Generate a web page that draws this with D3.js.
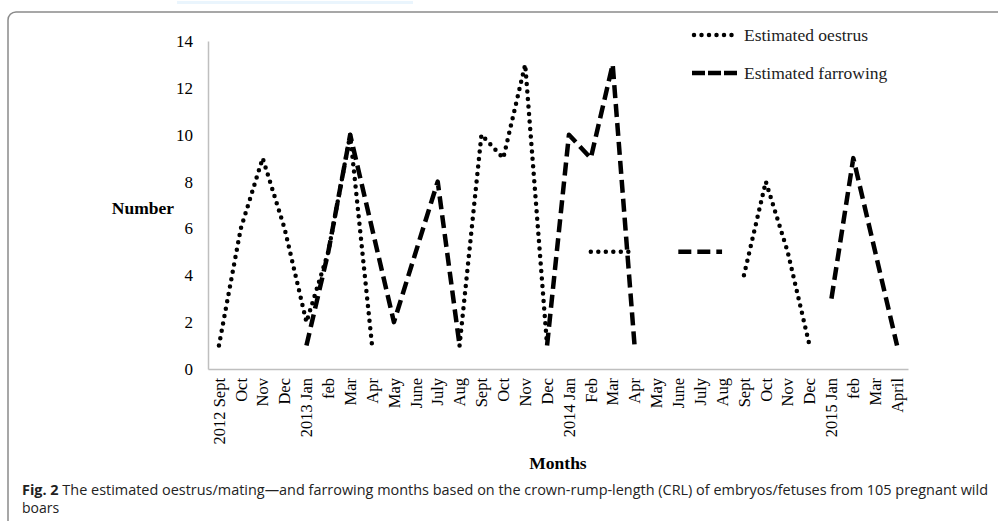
<!DOCTYPE html>
<html>
<head>
<meta charset="utf-8">
<script src="https://cdn.jsdelivr.net/npm/d3@7"></script>
<style>
  body { margin: 0; background: #fff; }
  svg { display: block; }
</style>
</head>
<body>
<svg id="chart" width="998" height="521"></svg>
<script>
// month labels along the x axis
var months = ["2012 Sept", "Oct", "Nov", "Dec", "2013 Jan", "feb", "Mar", "Apr", "May", "June",
    "July", "Aug", "Sept", "Oct", "Nov", "Dec", "2014 Jan", "Feb", "Mar", "Apr", "May", "June",
    "July", "Aug", "Sept", "Oct", "Nov", "Dec", "2015 Jan", "feb", "Mar", "April"];

// null = no point for that month
var oestrus = [1, 6, 9, 6, 2, 5, 10, 1, null, null, null, 1, 10, 9, 13, 1,
    null, 5, 5, 5, null, null, null, null, 4, 8, 5, 1, null, null, null, null];

var farrowing = [null, null, null, null, 1, 5, 10, 6, 2, 5, 8, 1, null, null, null, 1,
    10, 9, 13, 1, null, 5, 5, 5, null, null, null, null, 3, 9, 5, 1];

var yTicks = [0, 2, 4, 6, 8, 10, 12, 14];

var svg = d3.select("#chart");
var serif = "'Liberation Serif', 'Times New Roman', serif";

// figure frame
svg.append("rect")
    .attr("x", 177).attr("y", 1).attr("width", 236).attr("height", 3)
    .attr("fill", "#eaf5fd");
svg.append("rect")
    .attr("x", 8).attr("y", 12).attr("width", 1010).attr("height", 540)
    .attr("rx", 8)
    .attr("fill", "none").attr("stroke", "#8a8a8a").attr("stroke-width", 1.5);

var x = d3.scaleBand()
    .domain(d3.range(months.length))
    .range([208, 908]);

var y = d3.scaleLinear()
    .domain([0, 14])
    .range([369, 41]);

// axes
var yAxis = svg.append("g")
    .attr("transform", "translate(208,0)")
    .call(d3.axisLeft(y).tickValues(yTicks).tickSize(0).tickPadding(15));
yAxis.select(".domain").attr("stroke", "#bfbfbf").attr("stroke-width", 1.5);
yAxis.selectAll("text")
    .style("font-family", serif).style("font-size", "17px").attr("fill", "#000");

var xAxis = svg.append("g")
    .attr("transform", "translate(0,369)")
    .call(d3.axisBottom(x).tickSize(0).tickFormat(function(i) { return months[i]; }));
xAxis.select(".domain").attr("stroke", "#bfbfbf").attr("stroke-width", 1.5);
xAxis.selectAll("text")
    .style("font-family", serif).style("font-size", "16.5px").attr("fill", "#000")
    .attr("transform", "rotate(-90)")
    .attr("text-anchor", "end")
    .attr("x", -9).attr("y", 0).attr("dy", "0.35em");

// axis titles
svg.append("text")
    .attr("x", 174).attr("y", 214)
    .attr("text-anchor", "end")
    .style("font-family", serif).style("font-size", "17.5px").style("font-weight", "bold")
    .text("Number");
svg.append("text")
    .attr("x", 558).attr("y", 469)
    .attr("text-anchor", "middle")
    .style("font-family", serif).style("font-size", "17.5px").style("font-weight", "bold")
    .text("Months");

// series
var line = d3.line()
    .defined(function(d) { return d != null; })
    .x(function(d, i) { return x(i) + x.bandwidth() / 2; })
    .y(function(d) { return y(d); });

var dotted = { dash: "0,7.5", cap: "round", width: 4.5 };
var dashed = { dash: "13,6", cap: "butt", width: 4.5 };

svg.append("path")
    .datum(oestrus)
    .attr("d", line)
    .attr("fill", "none").attr("stroke", "#000").attr("stroke-width", dotted.width)
    .attr("stroke-dasharray", dotted.dash).attr("stroke-linecap", dotted.cap);

svg.append("path")
    .datum(farrowing)
    .attr("d", line)
    .attr("fill", "none").attr("stroke", "#000").attr("stroke-width", dashed.width)
    .attr("stroke-dasharray", dashed.dash).attr("stroke-linecap", dashed.cap)
    .attr("stroke-linejoin", "round");

// legend
var legendItems = [
    { label: "Estimated oestrus", style: dotted, y: 35 },
    { label: "Estimated farrowing", style: dashed, y: 73 }
];
var legend = svg.selectAll(".legend")
    .data(legendItems)
    .enter().append("g")
    .attr("transform", function(d) { return "translate(692," + d.y + ")"; });
legend.append("line")
    .attr("x1", function(d) { return d.style.cap == "round" ? 2 : 0; })
    .attr("x2", 46).attr("y1", 0).attr("y2", 0)
    .attr("stroke", "#000").attr("stroke-width", 4.5)
    .attr("stroke-dasharray", function(d) { return d.style.cap == "round" ? "0,7.5" : "13,3"; })
    .attr("stroke-linecap", function(d) { return d.style.cap; });
legend.append("text")
    .attr("x", 52).attr("y", 0).attr("dy", "0.33em")
    .style("font-family", serif).style("font-size", "17.5px").attr("fill", "#222")
    .text(function(d) { return d.label; });

// caption
var caption = svg.append("text")
    .attr("x", 22).attr("y", 495)
    .attr("textLength", 966).attr("lengthAdjust", "spacingAndGlyphs")
    .style("font-family", "'Open Sans', 'Noto Sans', sans-serif").style("font-size", "14px")
    .attr("fill", "#222");
caption.append("tspan").style("font-weight", "bold").text("Fig. 2");
caption.append("tspan").text("  The estimated oestrus/mating\u2014and farrowing months based on the crown-rump-length (CRL) of embryos/fetuses from 105 pregnant wild");
svg.append("text")
    .attr("x", 22).attr("y", 513)
    .style("font-family", "'Open Sans', 'Noto Sans', sans-serif").style("font-size", "14px")
    .attr("fill", "#222")
    .text("boars");
</script>
</body>
</html>
